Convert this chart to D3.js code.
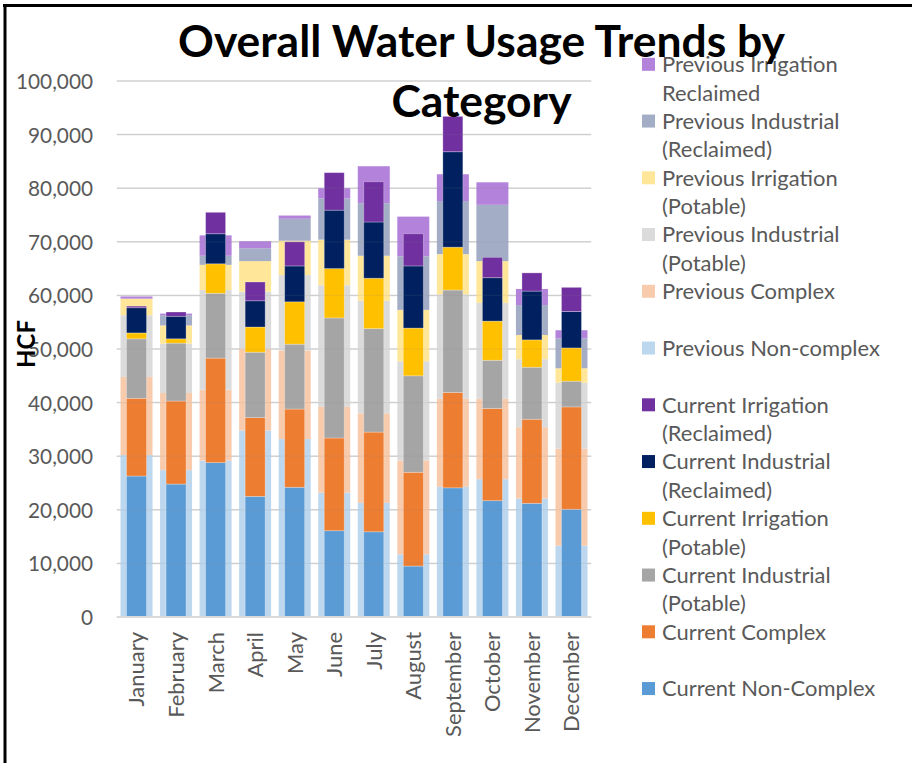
<!DOCTYPE html>
<html>
<head>
<meta charset="utf-8">
<script src="https://cdn.jsdelivr.net/npm/d3@7"></script>
<style>
  html, body { margin: 0; padding: 0; background: #fff; }
  svg { display: block; }
</style>
</head>
<body>
<svg id="chart" width="912" height="763"></svg>
<script>
// Monthly water usage (HCF), previous year vs current year, by category
const months = ["January", "February", "March", "April", "May", "June",
  "July", "August", "September", "October", "November", "December"];

const yTicks = [0, 10000, 20000, 30000, 40000, 50000, 60000, 70000, 80000, 90000, 100000];

// Previous year
const prevNonComplex = [30200, 27400, 29200, 34800, 33200, 23200, 21300, 11700, 24300, 25700, 22100, 13300];
const prevComplex = [14600, 14400, 13200, 15200, 16500, 16000, 16700, 17500, 16400, 15000, 13300, 18100];
const prevIndustrialPotable = [11500, 9200, 18600, 10700, 14100, 22700, 21000, 18500, 19500, 17900, 12700, 12300];
const prevIrrigationPotable = [3100, 3400, 4700, 5700, 6400, 8500, 8400, 9600, 7500, 7800, 4500, 2700];
const prevIndustrialReclaimed = [0, 1900, 1700, 2400, 4100, 7700, 9800, 10000, 9900, 10500, 5600, 5600];
const prevIrrigationReclaimed = [400, 300, 3800, 1300, 600, 1900, 6900, 7400, 5000, 4200, 3000, 1500];

// Current year
const curNonComplex = [26300, 24800, 28800, 22500, 24200, 16100, 15900, 9500, 24100, 21700, 21200, 20100];
const curComplex = [14500, 15500, 19500, 14700, 14600, 17300, 18600, 17500, 17800, 17200, 15700, 19100];
const curIndustrialPotable = [11100, 10800, 12100, 12200, 12100, 22400, 19300, 18000, 19100, 9000, 9700, 4800];
const curIrrigationPotable = [1100, 800, 5500, 4700, 7900, 9200, 9400, 8900, 8000, 7300, 5100, 6200];
const curIndustrialReclaimed = [4700, 4200, 5600, 4900, 6700, 10900, 10500, 11600, 17800, 8100, 9100, 6800];
const curIrrigationReclaimed = [300, 800, 4000, 3500, 4500, 7000, 7500, 6000, 6600, 3800, 3400, 4500];

const prevSeries = [
  { key: "Previous Non-complex", lines: ["Previous Non-complex"], values: prevNonComplex, color: "#BDD7EE" },
  { key: "Previous Complex", lines: ["Previous Complex"], values: prevComplex, color: "#F8CBAD" },
  { key: "Previous Industrial (Potable)", lines: ["Previous Industrial", "(Potable)"], values: prevIndustrialPotable, color: "#DBDBDB" },
  { key: "Previous Irrigation (Potable)", lines: ["Previous Irrigation", "(Potable)"], values: prevIrrigationPotable, color: "#FFE699" },
  { key: "Previous Industrial (Reclaimed)", lines: ["Previous Industrial", "(Reclaimed)"], values: prevIndustrialReclaimed, color: "#A3ADC5" },
  { key: "Previous Irrigation Reclaimed", lines: ["Previous Irrigation", "Reclaimed"], values: prevIrrigationReclaimed, color: "#B382DA" }
];
const curSeries = [
  { key: "Current Non-Complex", lines: ["Current Non-Complex"], values: curNonComplex, color: "#5B9BD5" },
  { key: "Current Complex", lines: ["Current Complex"], values: curComplex, color: "#ED7D31" },
  { key: "Current Industrial (Potable)", lines: ["Current Industrial", "(Potable)"], values: curIndustrialPotable, color: "#A5A5A5" },
  { key: "Current Irrigation (Potable)", lines: ["Current Irrigation", "(Potable)"], values: curIrrigationPotable, color: "#FFC000" },
  { key: "Current Industrial (Reclaimed)", lines: ["Current Industrial", "(Reclaimed)"], values: curIndustrialReclaimed, color: "#002060" },
  { key: "Current Irrigation (Reclaimed)", lines: ["Current Irrigation", "(Reclaimed)"], values: curIrrigationReclaimed, color: "#7030A0" }
];

const FONT = "Lato, 'Open Sans', sans-serif";
const TEXT_COLOR = "#595959";

const svg = d3.select("#chart");
const plot = { left: 116.75, right: 591.25, top: 81, bottom: 617 };

const x = d3.scaleBand().domain(months).range([plot.left, plot.right]).paddingInner(0).paddingOuter(0);
const y = d3.scaleLinear().domain([0, 100000]).range([plot.bottom, plot.top]);

// Font-size that makes a text element render at the given width
function fitWidth(node, target) {
  const w = node.getComputedTextLength();
  const fs = parseFloat(node.getAttribute("font-size"));
  return fs * target / w;
}

// Outer frame (top and left edges)
svg.append("line").attr("x1", 3).attr("x2", 912).attr("y1", 5.5).attr("y2", 5.5)
  .attr("stroke", "#000").attr("stroke-width", 3);
svg.append("line").attr("x1", 5).attr("x2", 5).attr("y1", 4).attr("y2", 763)
  .attr("stroke", "#000").attr("stroke-width", 3);

// Gridlines
const grid = svg.append("g");
grid.selectAll("line").data(yTicks).join("line")
  .attr("x1", plot.left).attr("x2", plot.right)
  .attr("y1", d => y(d)).attr("y2", d => y(d))
  .attr("stroke", "#D9D9D9").attr("stroke-width", 1.5);

// Y axis labels
const yAxis = svg.append("g").attr("transform", `translate(93,0)`)
  .call(d3.axisLeft(y).tickValues(yTicks).tickSize(0).tickPadding(0).tickFormat(d3.format(",")));
yAxis.select(".domain").remove();
yAxis.selectAll("text")
  .attr("font-family", FONT).attr("font-size", 20).attr("fill", TEXT_COLOR)
  .attr("dy", "0.36em");
{
  const n = yAxis.selectAll("text").filter(d => d === 100000).node();
  const fs = fitWidth(n, 77);
  yAxis.selectAll("text").attr("font-size", fs);
}

// Stacked bars
function stackFor(series) {
  const rows = months.map((m, i) => {
    const r = { month: m };
    series.forEach(s => { r[s.key] = s.values[i]; });
    return r;
  });
  return d3.stack().keys(series.map(s => s.key))(rows);
}

const prevStack = stackFor(prevSeries);
const curStack = stackFor(curSeries);

const prevW = 32, curW = 20;

svg.append("g").selectAll("g").data(prevStack).join("g")
  .attr("fill", (d, i) => prevSeries[i].color)
  .selectAll("rect").data(d => d).join("rect")
  .attr("x", d => x(d.data.month) + x.bandwidth() / 2 - prevW / 2)
  .attr("width", prevW)
  .attr("y", d => y(d[1]))
  .attr("height", d => y(d[0]) - y(d[1]));

svg.append("g").selectAll("g").data(curStack).join("g")
  .attr("fill", (d, i) => curSeries[i].color)
  .selectAll("rect").data(d => d).join("rect")
  .attr("x", d => x(d.data.month) + x.bandwidth() / 2 - curW / 2)
  .attr("width", curW)
  .attr("y", d => y(d[1]))
  .attr("height", d => y(d[0]) - y(d[1]))
  .attr("stroke", "rgba(255,255,255,0.35)").attr("stroke-width", 0.8);

// Faint gridline overlay seen through the bars
svg.append("g").selectAll("line").data(yTicks.filter(d => d > 0)).join("line")
  .attr("x1", plot.left).attr("x2", plot.right)
  .attr("y1", d => y(d)).attr("y2", d => y(d))
  .attr("stroke", "#808080").attr("stroke-opacity", 0.12).attr("stroke-width", 1.2);

// Category axis baseline
svg.append("line").attr("x1", plot.left).attr("x2", plot.right)
  .attr("y1", y(0)).attr("y2", y(0))
  .attr("stroke", "#D9D9D9").attr("stroke-width", 2);

// Month labels, rotated
const xAxis = svg.append("g").attr("transform", `translate(0,${plot.bottom})`)
  .call(d3.axisBottom(x).tickSize(0).tickPadding(0));
xAxis.select(".domain").remove();
xAxis.selectAll("text")
  .attr("font-family", FONT).attr("font-size", 20).attr("fill", TEXT_COLOR)
  .attr("text-anchor", "end")
  .attr("transform", "translate(0,15) rotate(-90)")
  .attr("x", 0).attr("y", 0).attr("dy", "0.36em");
{
  const n = xAxis.selectAll("text").filter(d => d === "September").node();
  const fs = fitWidth(n, 105);
  xAxis.selectAll("text").attr("font-size", fs);
}

// Y axis title
const hcf = svg.append("text")
  .attr("transform", "translate(35,344) rotate(-90)")
  .attr("text-anchor", "middle")
  .attr("font-family", FONT).attr("font-weight", 700).attr("font-size", 22)
  .attr("fill", "#000")
  .text("HCF");
hcf.attr("font-size", fitWidth(hcf.node(), 48));

// Legend
const legendItems = [...prevSeries].reverse().concat([...curSeries].reverse());
const legend = svg.append("g");
const pitch = 56.75, lineH = 28.4, firstY = 64.3;
const items = legend.selectAll("g").data(legendItems).join("g")
  .attr("transform", (d, i) => `translate(0,${firstY + i * pitch})`);
items.append("rect")
  .attr("x", 642).attr("y", -6.5).attr("width", 13).attr("height", 13)
  .attr("fill", d => d.color);
const legendText = items.selectAll("text").data(d => d.lines).join("text")
  .attr("x", 662).attr("y", (d, i) => i * lineH)
  .attr("dy", "0.36em")
  .attr("font-family", FONT).attr("font-size", 20).attr("fill", TEXT_COLOR)
  .text(d => d);
{
  const n = legendText.filter(d => d === "Previous Non-complex").node();
  const fs = fitWidth(n, 218);
  legendText.attr("font-size", fs);
}

// Title, drawn last so it sits above the legend
const title = svg.append("g")
  .attr("font-family", FONT).attr("font-weight", 700).attr("fill", "#000")
  .attr("text-anchor", "middle");
const t1 = title.append("text").attr("x", 481.5).attr("y", 57).attr("font-size", 44)
  .text("Overall Water Usage Trends by");
const t2 = title.append("text").attr("x", 481.5).attr("y", 117).attr("font-size", 44)
  .text("Category");
{
  const fs = fitWidth(t1.node(), 607);
  t1.attr("font-size", fs);
  t2.attr("font-size", fs);
}
</script>
</body>
</html>
